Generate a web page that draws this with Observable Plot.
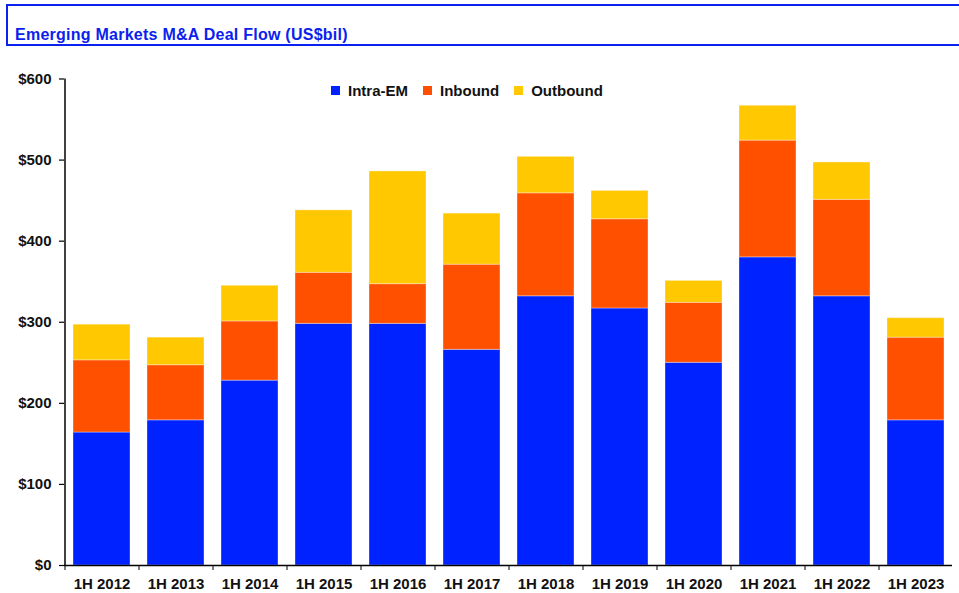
<!DOCTYPE html>
<html>
<head>
<meta charset="utf-8">
<script src="https://cdn.jsdelivr.net/npm/d3@7"></script>
<script src="https://cdn.jsdelivr.net/npm/@observablehq/plot@0.6"></script>
<style>
  html, body { margin: 0; padding: 0; background: #fff; overflow: hidden; }
  body { width: 959px; height: 593px; position: relative; font-family: "Liberation Sans", Arial, sans-serif; }
  #titlebox { position: absolute; left: 6px; top: 4px; width: 980px; height: 38px; border: 2px solid #0a22ee; }
  #title { position: absolute; left: 7px; bottom: 0px; font-weight: bold; font-size: 16px; color: #0a22ee; letter-spacing: 0.25px; }
  #chart { position: absolute; left: 0; top: 50px; }
  #legend { position: absolute; left: 331px; top: 82px; display: flex; align-items: center; font-weight: bold; font-size: 15px; color: #111; }
  .item { display: flex; align-items: center; margin-right: 15px; }
  .sw { width: 9px; height: 9px; margin-right: 8px; }
</style>
</head>
<body>
<div id="titlebox"><div id="title">Emerging Markets M&amp;A Deal Flow (US$bil)</div></div>
<div id="chart"></div>
<div id="legend"></div>
<script>
const categories = ["1H 2012","1H 2013","1H 2014","1H 2015","1H 2016","1H 2017","1H 2018","1H 2019","1H 2020","1H 2021","1H 2022","1H 2023"];
const seriesNames = ["Intra-EM","Inbound","Outbound"];
const seriesColors = ["#0022ff","#ff5000","#ffc800"];
const intraEM  = [164,179,228,298,298,266,332,317,250,380,332,179];
const inbound  = [89,68,73,63,49,105,127,110,74,144,119,102];
const outbound = [44,34,44,77,139,63,45,35,27,43,46,24];
const yTicks = [0,100,200,300,400,500,600];

const values = [intraEM, inbound, outbound];
const rows = [];
seriesNames.forEach((s, si) => categories.forEach((c, ci) => rows.push({cat: c, series: s, value: values[si][ci]})));

const chart = Plot.plot({
  width: 959,
  height: 543,
  marginTop: 28.5,
  marginBottom: 28,
  marginLeft: 64,
  marginRight: 7,
  style: {fontFamily: "'Liberation Sans', Arial, sans-serif", fontSize: "15px", fontWeight: "bold", color: "#111", background: "transparent"},
  x: {domain: categories, paddingInner: 0.23, paddingOuter: 0.115, label: null},
  y: {domain: [0, 600], label: null},
  color: {domain: seriesNames, range: seriesColors},
  marks: [
    Plot.barY(rows, {x: "cat", y: "value", fill: "series", stroke: "#ffffff", strokeOpacity: 0.35, strokeWidth: 1}),
    Plot.axisY({ticks: yTicks, tickFormat: d => "$" + d, tickSize: 5, tickPadding: 8, stroke: "#000", strokeWidth: 1.2}),
    Plot.ruleX([0], {x: () => categories[0], dx: -37, y1: 0, y2: 600, stroke: "#000", strokeWidth: 1.5}),
    Plot.ruleY([0], {stroke: "#000", strokeWidth: 1.5}),
    Plot.axisX({tickSize: 0, tickPadding: 13}),
    Plot.axisX({tickSize: 5, tickFormat: () => "", dx: -37, stroke: "#000"})
  ]
});
document.getElementById("chart").appendChild(chart);

const legend = document.getElementById("legend");
seriesNames.forEach((s, i) => {
  const it = document.createElement("div");
  it.className = "item";
  const sw = document.createElement("div");
  sw.className = "sw";
  sw.style.background = seriesColors[i];
  const t = document.createElement("span");
  t.textContent = s;
  it.appendChild(sw); it.appendChild(t);
  legend.appendChild(it);
});
</script>
</body>
</html>
